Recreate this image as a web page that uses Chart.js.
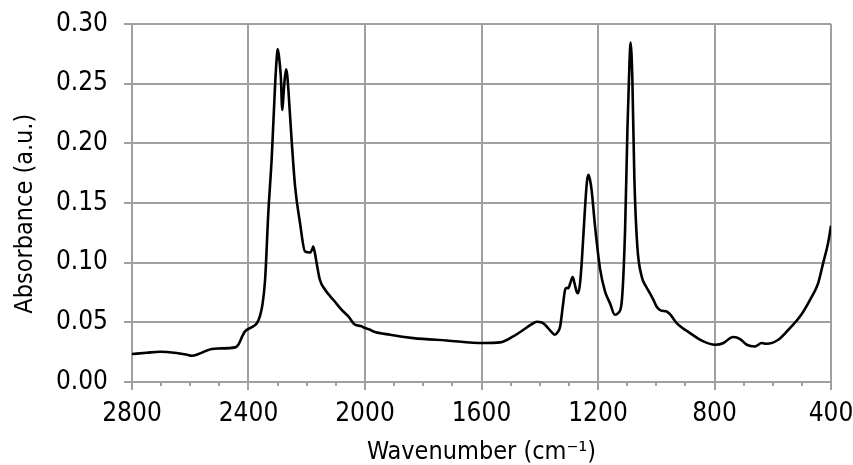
<!DOCTYPE html>
<html>
<head>
<meta charset="utf-8">
<script src="https://cdn.jsdelivr.net/npm/chart.js@4"></script>
<style>
  html, body { margin: 0; padding: 0; background: #fff; }
  #wrap { width: 853px; height: 465px; }
</style>
</head>
<body>
<div id="wrap"><canvas id="irChart" width="853" height="465"></canvas></div>
<script>
// FTIR spectrum, wavenumber (cm-1) vs absorbance
var wavenumber = [
  2800, 2750, 2704, 2647, 2610, 2595, 2572, 2545, 2526, 2504,
  2446, 2435, 2420, 2412, 2395, 2372, 2361, 2352, 2343, 2332,
  2320, 2309, 2303, 2300, 2296, 2289, 2284, 2280, 2277, 2271,
  2267, 2263, 2252, 2240, 2223, 2206, 2189, 2180, 2178, 2172,
  2166, 2155, 2137, 2120, 2109, 2080, 2057, 2034, 2015, 2000,
  1985, 1971, 1914, 1834, 1720, 1594, 1536, 1491, 1456, 1430,
  1410, 1395, 1382, 1360, 1348, 1338, 1330, 1320, 1313, 1307,
  1302, 1295, 1287, 1280, 1272, 1268, 1262, 1256, 1245, 1238,
  1233, 1228, 1222, 1210, 1193, 1176, 1159, 1142, 1130, 1119,
  1107, 1099, 1092, 1088, 1085, 1082, 1075, 1065, 1050, 1035,
  1022, 1010, 999, 985, 964, 950, 930, 884, 838, 798,
  769, 745, 735, 712, 689, 661, 638, 621, 581, 541,
  506, 472, 444, 427, 410, 400
];
var absorbance = [
  0.0234, 0.0245, 0.0254, 0.0243, 0.0228, 0.0220, 0.0234, 0.0262, 0.0276, 0.0281,
  0.0290, 0.0312, 0.0390, 0.0424, 0.0452, 0.0490, 0.0550, 0.0650, 0.0857, 0.1415,
  0.1890, 0.2475, 0.2720, 0.2790, 0.2740, 0.2560, 0.2280, 0.2400, 0.2503, 0.2620,
  0.2570, 0.2447, 0.2030, 0.1638, 0.1330, 0.1094, 0.1085, 0.1120, 0.1135, 0.1080,
  0.0996, 0.0857, 0.0773, 0.0720, 0.0689, 0.0605, 0.0550, 0.0480, 0.0470, 0.0452,
  0.0440, 0.0424, 0.0396, 0.0368, 0.0348, 0.0327, 0.0332, 0.0382, 0.0438, 0.0480,
  0.0505, 0.0500, 0.0480, 0.0420, 0.0396, 0.0420, 0.0466, 0.0650, 0.0773, 0.0790,
  0.0787, 0.0830, 0.0879, 0.0820, 0.0750, 0.0745, 0.0820, 0.0996, 0.1443, 0.1680,
  0.1736, 0.1700, 0.1610, 0.1300, 0.0950, 0.0759, 0.0661, 0.0563, 0.0580, 0.0661,
  0.1275, 0.2113, 0.2670, 0.2844, 0.2750, 0.2531, 0.1694, 0.1136, 0.0884, 0.0800,
  0.0745, 0.0690, 0.0633, 0.0600, 0.0591, 0.0560, 0.0494, 0.0410, 0.0340, 0.0312,
  0.0327, 0.0370, 0.0377, 0.0360, 0.0312, 0.0298, 0.0327, 0.0320, 0.0354, 0.0452,
  0.0550, 0.0689, 0.0829, 0.0996, 0.1164, 0.1310
];
var xTicks = [2800, 2400, 2000, 1600, 1200, 800, 400];
var xMinorStep = 100;

var gridGrey = '#a0a0a0';
var fontFamily = "'DejaVu Sans Condensed', 'Liberation Sans', sans-serif";

var points = wavenumber.map(function (w, i) { return { x: w, y: absorbance[i] }; });

// short minor tick marks under the x axis
var minorTicks = {
  id: 'minorTicks',
  afterDraw: function (chart) {
    var sx = chart.scales.x;
    var ctx = chart.ctx;
    ctx.save();
    ctx.strokeStyle = gridGrey;
    ctx.lineWidth = 2;
    for (var v = sx.min; v <= sx.max; v += xMinorStep) {
      if (xTicks.indexOf(v) >= 0) continue;
      var px = Math.round(sx.getPixelForValue(v));
      ctx.beginPath();
      ctx.moveTo(px, sx.top);
      ctx.lineTo(px, sx.top + 4);
      ctx.stroke();
    }
    ctx.restore();
  }
};

new Chart(document.getElementById('irChart'), {
  type: 'line',
  data: {
    datasets: [{
      data: points,
      borderColor: '#000',
      borderWidth: 2.6,
      pointRadius: 0,
      fill: false,
      cubicInterpolationMode: 'monotone'
    }]
  },
  options: {
    responsive: false,
    animation: false,
    layout: { padding: 0 },
    plugins: { legend: { display: false }, tooltip: { enabled: false } },
    scales: {
      x: {
        type: 'linear',
        reverse: true,
        min: 400,
        max: 2800,
        afterBuildTicks: function (scale) {
          scale.ticks = xTicks.map(function (v) { return { value: v }; });
        },
        afterFit: function (scale) {
          scale.height = 83;
          scale.paddingLeft = 0;
          scale.paddingRight = 22;
        },
        ticks: {
          color: '#000',
          padding: 9,
          maxRotation: 0,
          autoSkip: false,
          font: { family: fontFamily, size: 26 },
          callback: function (v) { return String(v); }
        },
        grid: { color: gridGrey, lineWidth: 2, tickLength: 8, tickColor: gridGrey },
        border: { color: gridGrey, width: 2 },
        title: {
          display: true,
          text: 'Wavenumber (cm\u207B\u00B9)',
          color: '#000',
          font: { family: fontFamily, size: 25, lineHeight: 1 },
          padding: { top: 0, bottom: 0 }
        }
      },
      y: {
        min: 0,
        max: 0.3,
        afterFit: function (scale) {
          scale.width = 132;
          scale.paddingTop = 24;
          scale.paddingBottom = 0;
        },
        ticks: {
          stepSize: 0.05,
          color: '#000',
          padding: 16,
          font: { family: fontFamily, size: 26 },
          callback: function (v) { return v.toFixed(2); }
        },
        grid: { color: gridGrey, lineWidth: 2, tickLength: 8, tickColor: gridGrey },
        border: { color: gridGrey, width: 2 },
        title: {
          display: true,
          // trailing no-break spaces nudge the rotated title a little lower
          text: 'Absorbance (a.u.)\u00A0\u00A0\u00A0',
          color: '#000',
          font: { family: fontFamily, size: 25 },
          padding: { top: 10, bottom: 0 }
        }
      }
    }
  },
  plugins: [minorTicks]
});
</script>
</body>
</html>
